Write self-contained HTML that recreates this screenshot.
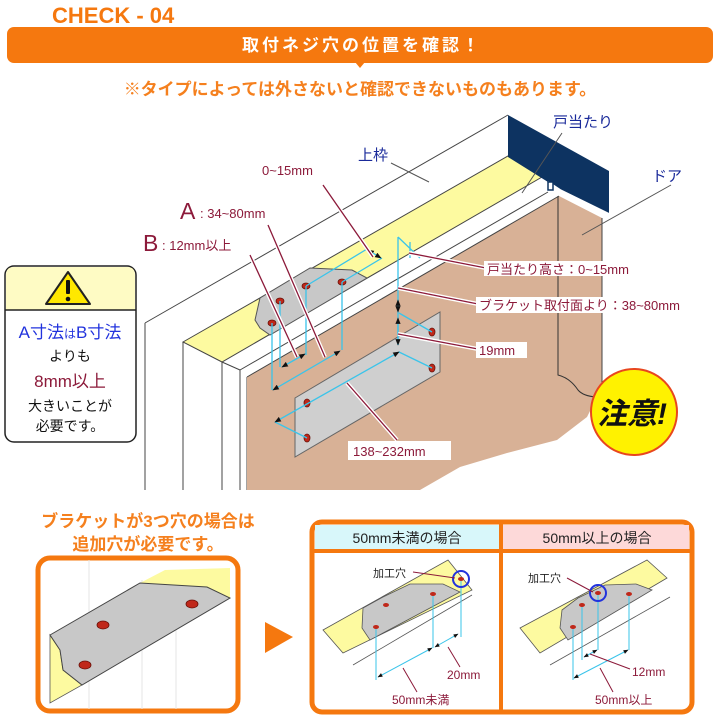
<!DOCTYPE html>
<html><head><meta charset="utf-8"><style>
html,body{margin:0;padding:0;background:#fff;}
svg{display:block;font-family:"Liberation Sans","Noto Sans CJK JP",sans-serif;}
</style></head><body>
<svg width="720" height="720" viewBox="0 0 720 720" xmlns="http://www.w3.org/2000/svg">
<defs>
<marker id="ar" viewBox="0 0 10 10" refX="9" refY="5" markerWidth="5" markerHeight="5" orient="auto-start-reverse"><path d="M0,1 L10,5 L0,9z" fill="#111"/></marker>
</defs>
<!-- header -->
<text x="52" y="23" font-size="22" font-weight="bold" fill="#f5780f">CHECK - 04</text>
<rect x="7" y="27" width="706" height="36" rx="7" fill="#f5780f"/>
<path d="M360,62 l-5,0 l5,6 l5,-6z" fill="#f5780f"/>
<text x="362" y="51" font-size="17" font-weight="bold" fill="#fff" text-anchor="middle" letter-spacing="3">取付ネジ穴の位置を確認！</text>
<text x="360" y="95" font-size="17" font-weight="bold" fill="#f5801e" text-anchor="middle">※タイプによっては外さないと確認できないものもあります。</text>

<!-- frame -->
<g stroke="#444" stroke-width="1" fill="none">
<path d="M145,323 L508,115" />
<path d="M145,323 V490 M183,342 V490 M222,362 V490 M240,370 V490 M247,377 V490"/>
</g>
<polygon points="183,342 508,156 542,177 222,362" fill="#fdfaa0" stroke="#444" stroke-width="1"/>
<polygon points="247,377 559,196 602,218 602,387 597,397 587,417 557,440 507,453 460,467 420,490 247,490" fill="#d8b196"/>
<path d="M240,370 L548,192 M247,377 L559,196 M602,218 V387" stroke="#444" stroke-width="1" fill="none"/>
<path d="M222,362 L240,370" stroke="#444" fill="none"/>
<polygon points="508,115 609,171 609,214 560,190 548,182 508,157" fill="#0d3361"/>
<path d="M548,182 L560,190 L609,214" stroke="#fff" stroke-width="2" fill="none"/>
<rect x="548" y="182" width="5" height="8" fill="#fff" stroke="#0d3361" stroke-width="1.5"/>
<path d="M558,196 V375 Q570,378 578,390 Q583,396 596,397" stroke="#333" stroke-width="1" fill="none"/>

<!-- upper bracket -->
<polygon points="255,320 260,298 310,268 352,270 367,278 270,335 260,328" fill="#c8c8c8" stroke="#555" stroke-width="1"/>
<!-- lower plate -->
<polygon points="295,398 440,312 440,372 295,457" fill="#cfcfcf" stroke="#666" stroke-width="1"/>
<g fill="#c0281a" stroke="#6a120a" stroke-width="0.8">
<ellipse cx="306" cy="286" rx="4" ry="3"/><ellipse cx="342" cy="282" rx="4" ry="3"/>
<ellipse cx="280" cy="301" rx="4" ry="3"/><ellipse cx="272" cy="323" rx="4" ry="3"/>
<ellipse cx="307" cy="403" rx="3" ry="4"/><ellipse cx="307" cy="438" rx="3" ry="4"/>
<ellipse cx="432" cy="332" rx="3" ry="4"/><ellipse cx="432" cy="368" rx="3" ry="4"/>
</g>
<!-- cyan dims -->
<g stroke="#3ac4ea" stroke-width="1.3" fill="none">
<path d="M272,323 V390 M280,301 V367 M306,286 V355 M342,282 V350"/>
<path d="M306,286 L367,249 M342,282 L382,258"/>
<path d="M398,237 V345 M410,242 V258 M398,237 L420,258"/>
<path d="M399,313 L432,332 M399,352 L432,368 M275,422 L307,438"/>
</g>
<g stroke="#3ac4ea" stroke-width="1.3" fill="none" marker-start="url(#ar)" marker-end="url(#ar)">
<path d="M273,390 L340,351"/><path d="M282,367 L305,354"/>
<path d="M368,250 L381,258"/>
<path d="M398,300 V312"/><path d="M398,318 V345"/>
<path d="M275,422 L399,352"/>
</g>
<!-- label lines -->
<g stroke="#fff" stroke-width="4" fill="none">
<path d="M323,185 L373,257 M268,225 L325,357 M250,255 L297,357 M347,383 L397,440 M409,253 L486,268 M398,288 L478,304 M398,334 L478,349"/>
</g>
<g stroke="#8c1a3a" stroke-width="1.3" fill="none">
<path d="M323,185 L373,257 M268,225 L325,357 M250,255 L297,357 M347,383 L397,440 M409,253 L486,268 M398,288 L478,304 M398,334 L478,349"/>
</g>
<g stroke="#555" stroke-width="1" fill="none">
<path d="M391,163 L429,182 M562,133 L522,193 M671,185 L582,235"/>
</g>
<!-- label text -->
<g fill="#8c1a3a" font-size="13">
<text x="262" y="175">0~15mm</text>
<text x="180" y="219" font-size="23">A</text><text x="200" y="218">: 34~80mm</text>
<text x="143" y="251" font-size="23">B</text><text x="162" y="250">: 12mm以上</text>
<rect x="484" y="261" width="170" height="15" fill="#fff"/><text x="487" y="274">戸当たり高さ：0~15mm</text>
<rect x="476" y="297" width="233" height="16" fill="#fff"/><text x="479" y="310">ブラケット取付面より：38~80mm</text>
<rect x="476" y="342" width="51" height="16" fill="#fff"/><text x="479" y="355">19mm</text>
<rect x="348" y="441" width="103" height="19" fill="#fff"/><text x="353" y="456">138~232mm</text>
</g>
<g fill="#1a2a9a" font-size="15">
<text x="358" y="160">上枠</text>
<text x="553" y="127">戸当たり</text>
<text x="652" y="181">ドア</text>
</g>
<!-- caution circle -->
<circle cx="634" cy="412" r="43" fill="#fff200" stroke="#e8461e" stroke-width="2"/>
<text x="632" y="424" font-size="30" font-weight="bold" fill="#111" text-anchor="middle" font-style="italic">注意!</text>

<!-- warning box -->
<rect x="5" y="266" width="131" height="176" rx="9" fill="#fff" stroke="#222" stroke-width="1.5"/>
<path d="M6,310 V275 Q6,267 14,267 H127 Q135,267 135,275 V310z" fill="#fefbc4"/>
<line x1="5" y1="310" x2="136" y2="310" stroke="#222" stroke-width="1.5"/>
<polygon points="68,272 90,304 46,304" fill="#ffe800" stroke="#222" stroke-width="2" stroke-linejoin="round"/>
<rect x="66" y="280" width="4" height="14" rx="1" fill="#111"/><circle cx="68" cy="299" r="2.3" fill="#111"/>
<g text-anchor="middle" font-size="14" fill="#111">
<text x="70" y="338" fill="#2233dd" font-size="17"><tspan>A寸法</tspan><tspan font-size="12">は</tspan><tspan>B寸法</tspan></text>
<text x="70" y="361">よりも</text>
<text x="70" y="387" fill="#8c1a3a" font-size="17">8mm以上</text>
<text x="70" y="411">大きいことが</text>
<text x="70" y="431">必要です。</text>
</g>

<!-- bottom left -->
<g font-size="17" font-weight="bold" fill="#f5801e" text-anchor="middle">
<text x="148" y="527">ブラケットが3つ穴の場合は</text>
<text x="148" y="550">追加穴が必要です。</text>
</g>
<rect x="38" y="558" width="200" height="153" rx="12" fill="#fff" stroke="#f5780f" stroke-width="5"/>
<path d="M89,560 V709 M142,580 V709 M176,600 V709" stroke="#e6e6e6" fill="none"/>
<polygon points="50,635 50,703 82,685 63,670 60,650" fill="#fdfaa0" stroke="#555" stroke-width="0.8"/>
<polygon points="140,583 165,570 230,568 230,598 207,587" fill="#fdfaa0"/>
<polygon points="50,635 140,583 207,587 230,598 82,685 63,670 60,650" fill="#c8c8c8" stroke="#444" stroke-width="1"/>
<g fill="#c0281a" stroke="#6a120a" stroke-width="0.8">
<ellipse cx="103" cy="625" rx="6" ry="4"/><ellipse cx="85" cy="665" rx="6" ry="4"/><ellipse cx="192" cy="604" rx="6" ry="4"/>
</g>
<polygon points="265,622 293,637 265,653" fill="#f5780f"/>

<!-- bottom right panel -->
<rect x="312" y="522" width="380" height="190" rx="10" fill="#fff" stroke="#f5780f" stroke-width="5"/>
<rect x="315" y="525" width="185" height="25" fill="#d8f7fa"/>
<rect x="502" y="525" width="187" height="25" fill="#fdd9d9"/>
<line x1="312" y1="551" x2="692" y2="551" stroke="#f5780f" stroke-width="4"/>
<line x1="501" y1="522" x2="501" y2="712" stroke="#f5780f" stroke-width="4"/>
<text x="407" y="543" font-size="14" text-anchor="middle" fill="#222">50mm未満の場合</text>
<text x="597" y="543" font-size="14" text-anchor="middle" fill="#222">50mm以上の場合</text>

<!-- sub left -->
<polygon points="323,630 448,560 472,590 343,653" fill="#fdfaa0" stroke="#555" stroke-width="0.8"/>
<line x1="353" y1="665" x2="472" y2="595" stroke="#555" stroke-width="0.8"/>
<polygon points="362,628 363,608 383,597 410,584 443,584 460,592 370,640" fill="#c8c8c8" stroke="#555" stroke-width="0.8"/>
<g stroke="#3ac4ea" stroke-width="1" fill="none">
<path d="M376,627 V680 M433,594 V648 M461,579 V637"/>
</g>
<g stroke="#3ac4ea" stroke-width="1" fill="none" marker-start="url(#ar)" marker-end="url(#ar)">
<path d="M378,677 L432,648"/><path d="M435,647 L458,634"/>
</g>
<g fill="#c0281a"><ellipse cx="386" cy="605" rx="3" ry="2"/><ellipse cx="433" cy="594" rx="3" ry="2"/><ellipse cx="376" cy="627" rx="3" ry="2"/><ellipse cx="461" cy="579" rx="3" ry="2"/></g>
<circle cx="461" cy="579" r="8" fill="none" stroke="#2233dd" stroke-width="2"/>
<path d="M413,572 L455,578 M448,647 L460,667 M403,668 L417,692" stroke="#8c1a3a" stroke-width="1" fill="none"/>
<text x="373" y="577" font-size="11" fill="#222">加工穴</text>
<text x="447" y="679" font-size="12" fill="#8c1a3a">20mm</text>
<text x="392" y="704" font-size="12" fill="#8c1a3a">50mm未満</text>

<!-- sub right -->
<polygon points="520,628 647,560 667,578 540,653" fill="#fdfaa0" stroke="#555" stroke-width="0.8"/>
<line x1="550" y1="665" x2="670" y2="597" stroke="#555" stroke-width="0.8"/>
<polygon points="560,628 562,610 578,598 605,585 636,584 652,590 568,640" fill="#c8c8c8" stroke="#555" stroke-width="0.8"/>
<g stroke="#3ac4ea" stroke-width="1" fill="none">
<path d="M573,627 V680 M582,605 V660 M598,593 V650 M629,594 V650"/>
</g>
<g stroke="#3ac4ea" stroke-width="1" fill="none" marker-start="url(#ar)" marker-end="url(#ar)">
<path d="M584,657 L597,650"/><path d="M574,678 L628,650"/>
</g>
<g fill="#c0281a"><ellipse cx="573" cy="627" rx="3" ry="2"/><ellipse cx="582" cy="605" rx="3" ry="2"/><ellipse cx="598" cy="593" rx="3" ry="2"/><ellipse cx="629" cy="594" rx="3" ry="2"/></g>
<circle cx="598" cy="593" r="8" fill="none" stroke="#2233dd" stroke-width="2"/>
<path d="M567,578 L593,592 M590,654 L630,669 M600,668 L613,692" stroke="#8c1a3a" stroke-width="1" fill="none"/>
<text x="528" y="582" font-size="11" fill="#222">加工穴</text>
<text x="632" y="676" font-size="12" fill="#8c1a3a">12mm</text>
<text x="595" y="704" font-size="12" fill="#8c1a3a">50mm以上</text>
</svg>
</body></html>
